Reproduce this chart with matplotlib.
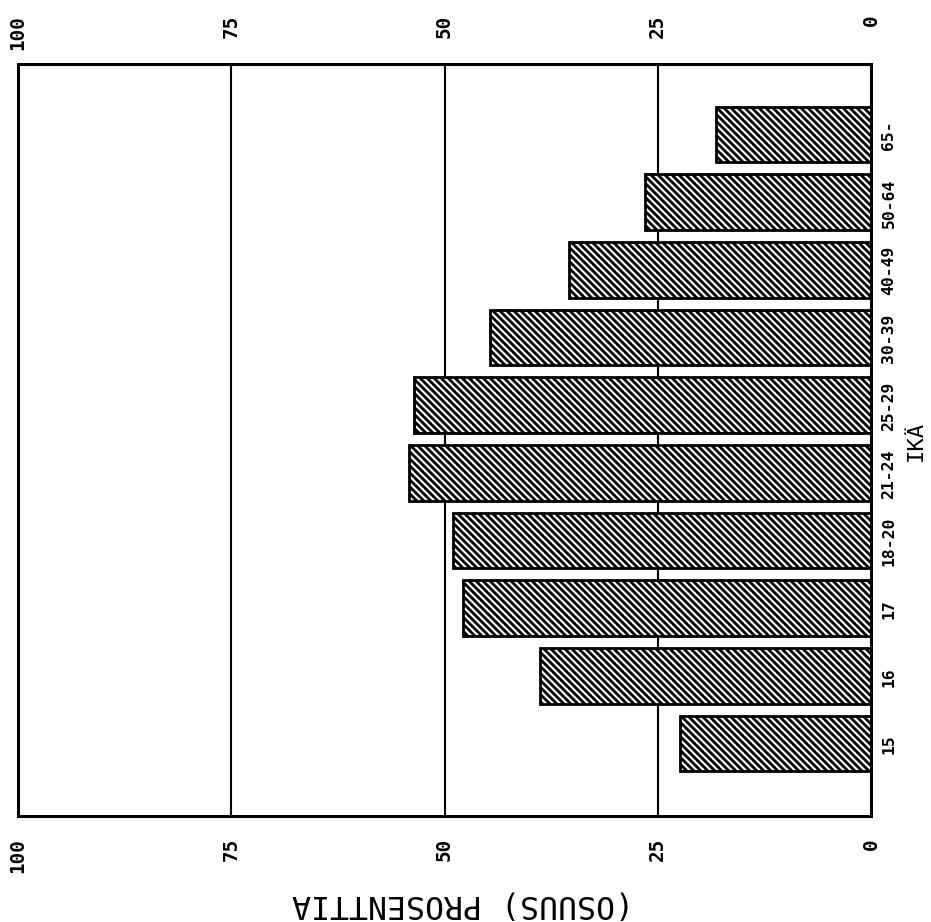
import matplotlib
matplotlib.use("Agg")
import matplotlib.pyplot as plt
import numpy as np

# --------------------------------------
# Data
# --------------------------------------
age_groups = ["15", "16", "17", "18-20", "21-24", "25-29", "30-39", "40-49", "50-64", "65-"]
share_pct = [22.4, 38.8, 47.8, 49.0, 54.2, 53.6, 44.7, 35.4, 26.5, 18.2]
value_ticks = [0, 25, 50, 75, 100]
value_labels = ["0", "25", "50", "75", "100"]

# hatch spacing is tied to dpi, so work at 84 dpi
DPI = 84
W, H = 931, 923

plt.rcParams["hatch.linewidth"] = 2.4
plt.rcParams["font.family"] = "DejaVu Sans Mono"

fig = plt.figure(figsize=(W / DPI, H / DPI), dpi=DPI)
ax = fig.add_axes([18 / W, 106 / H, 853 / W, 752 / H])

ypos = np.arange(len(age_groups))
ax.barh(ypos, share_pct, height=0.82, color="white", edgecolor="black",
        hatch="\\\\\\\\", linewidth=2.4, zorder=2)

ax.set_xlim(100, 0)
ax.set_ylim(-1.07, 10.04)

# grid only at 25/50/75, behind the bars
for v in [25, 50, 75]:
    ax.axvline(v, color="black", linewidth=1.8, zorder=1)

for sp in ax.spines.values():
    sp.set_linewidth(2.6)

# bottom value ticks
ax.set_xticks(value_ticks, value_labels)
ax.tick_params(axis="x", length=0, pad=18, labelrotation=90, labelsize=16.5)
for t in ax.get_xticklabels():
    t.set_fontweight("bold")

# top value ticks
sec = ax.secondary_xaxis("top")
sec.set_xticks(value_ticks, value_labels)
sec.tick_params(axis="x", length=0, pad=43, labelrotation=90, labelsize=16.5)
sec.spines["top"].set_visible(False)
for t in sec.get_xticklabels():
    t.set_fontweight("bold")
    t.set_verticalalignment("top")

# categories on the right
ax.yaxis.tick_right()
ax.set_yticks(ypos, age_groups)
ax.tick_params(axis="y", length=0, pad=9, labelrotation=90, labelsize=14)
for t in ax.get_yticklabels():
    t.set_fontweight("bold")
    t.set_verticalalignment("center")

ax.set_xlabel("(OSUUS) PROSENTTIA", rotation=180, fontsize=27)
ax.xaxis.set_label_coords((463 - 18) / 853, (817 - 889) / 752)

ax.yaxis.set_label_position("right")
ax.set_ylabel("IKÄ", rotation=90, fontsize=19)
ax.yaxis.set_label_coords((906 - 18) / 853, 0.5)

fig.savefig("out.png", dpi=DPI)
plt.close(fig)
